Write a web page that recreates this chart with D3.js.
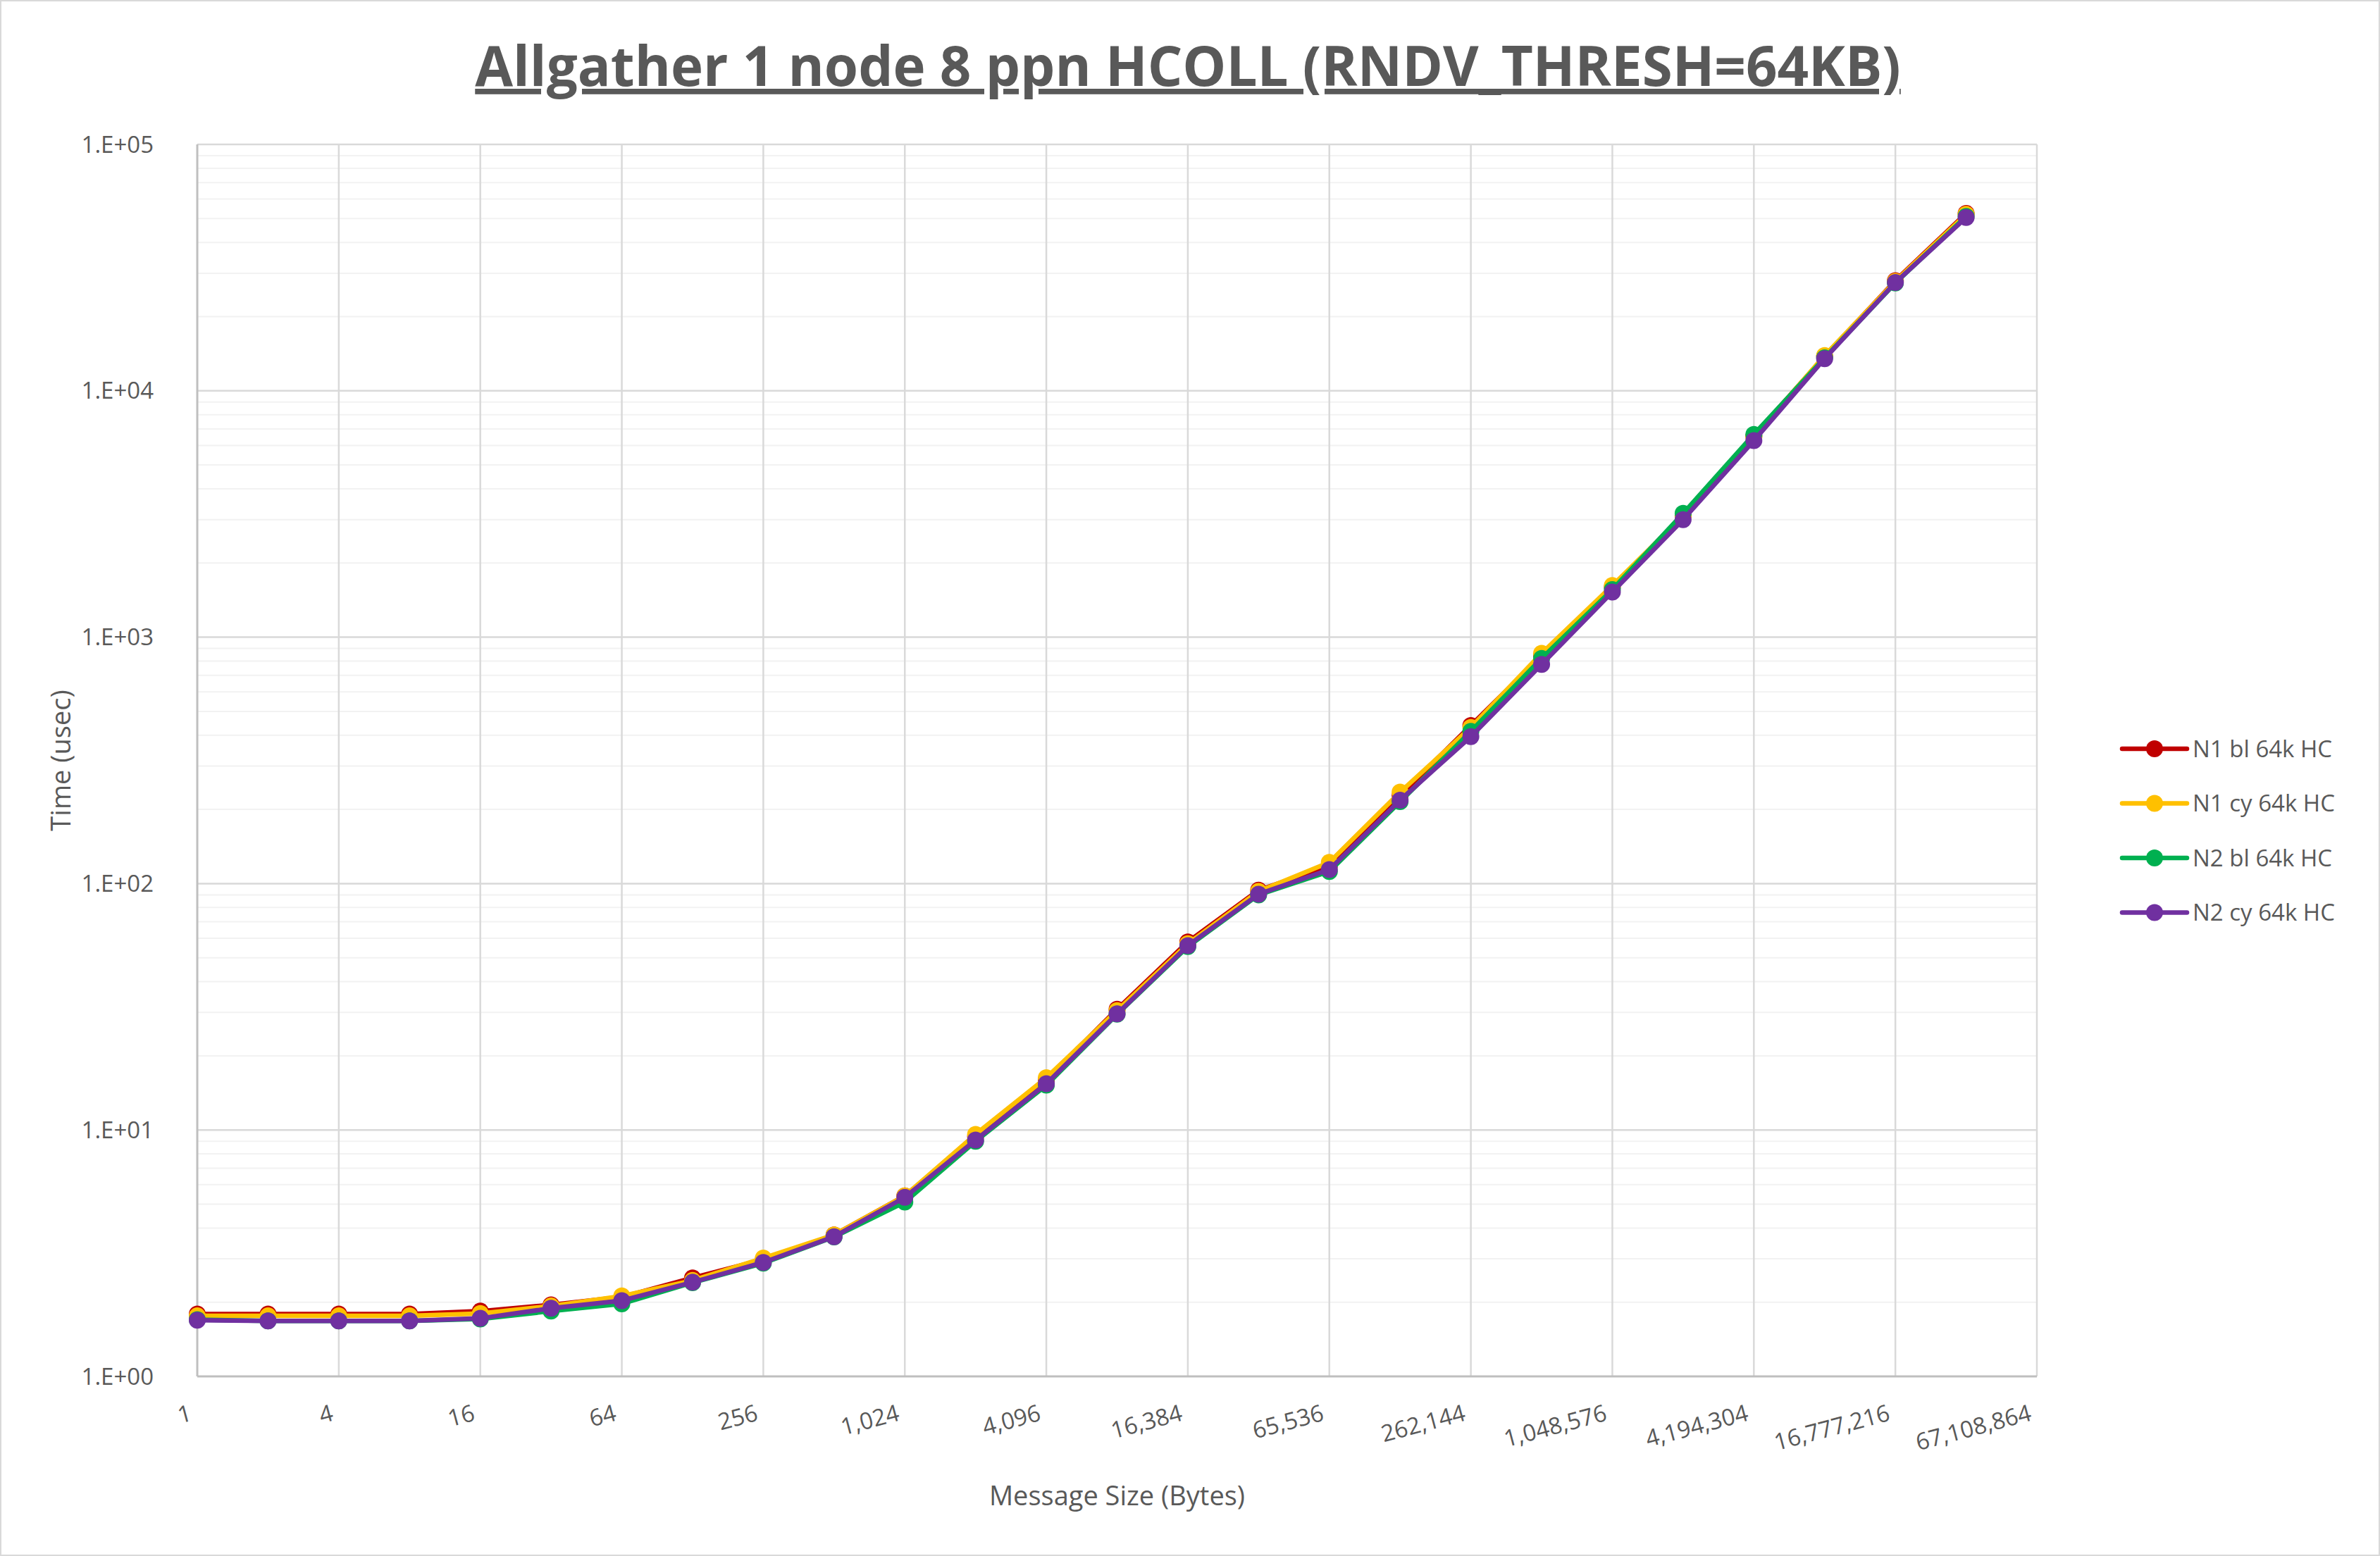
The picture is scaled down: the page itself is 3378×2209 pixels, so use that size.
<!DOCTYPE html>
<html>
<head>
<meta charset="utf-8">
<script src="https://cdn.jsdelivr.net/npm/d3@7"></script>
<style>
  body { margin: 0; background: #fff; }
  svg text { font-family: "Open Sans", "Liberation Sans", sans-serif; fill: #595959; }
</style>
</head>
<body>
<div id="chart"></div>
<script>
// message sizes 2^0 .. 2^26 (last category has no data)
const sizes = d3.range(27).map(i => Math.pow(2, i));

const seriesNames = ['N1 bl 64k HC', 'N1 cy 64k HC', 'N2 bl 64k HC', 'N2 cy 64k HC'];
const seriesColors = ['#c00000', '#ffc000', '#00b050', '#7030a0'];

const n1bl = [1.79, 1.79, 1.79, 1.79, 1.84, 1.95, 2.1, 2.51, 2.98, 3.75, 5.4, 9.4, 16.0, 30.9, 58, 94, 118, 228, 438, 840, 1600, 3120, 6550, 13800, 28000, 52500];
const n1cy = [1.76, 1.76, 1.76, 1.76, 1.8, 1.93, 2.12, 2.45, 3.02, 3.75, 5.4, 9.6, 16.3, 30.5, 57, 93, 122, 235, 430, 860, 1620, 3100, 6500, 13900, 27800, 52000];
const n2bl = [1.7, 1.68, 1.68, 1.68, 1.71, 1.84, 1.97, 2.4, 2.88, 3.68, 5.1, 9.0, 15.2, 29.5, 55.5, 90, 112, 215, 415, 820, 1560, 3180, 6650, 13600, 27400, 51000];
const n2cy = [1.69, 1.68, 1.68, 1.68, 1.72, 1.89, 2.03, 2.41, 2.9, 3.69, 5.33, 9.1, 15.4, 29.6, 56, 90.6, 114, 218, 395, 775, 1525, 3000, 6280, 13500, 27500, 50500];
const seriesValues = [n1bl, n1cy, n2bl, n2cy];

const yTicks = [1, 10, 100, 1000, 10000, 100000];
const yTickLabels = ['1.E+00', '1.E+01', '1.E+02', '1.E+03', '1.E+04', '1.E+05'];

const W = 3378, H = 2209;
const m = { left: 280, right: 2891, top: 205, bottom: 1954 };

const svg = d3.select('#chart').append('svg')
    .attr('width', W).attr('height', H);

svg.append('rect')
    .attr('x', 1).attr('y', 1).attr('width', W - 2).attr('height', H - 2)
    .attr('fill', '#fff').attr('stroke', '#d9d9d9').attr('stroke-width', 2);

const x = d3.scaleLinear().domain([0, sizes.length - 1]).range([m.left, m.right]);
const y = d3.scaleLog().domain([1, 100000]).range([m.bottom, m.top]);

// minor gridlines
const minor = [];
for (let d = 1; d < 100000; d *= 10) for (let k = 2; k <= 9; k++) minor.push(d * k);
svg.append('g').selectAll('line').data(minor).enter().append('line')
    .attr('x1', m.left).attr('x2', m.right)
    .attr('y1', d => y(d)).attr('y2', d => y(d))
    .attr('stroke', '#f2f2f2').attr('stroke-width', 2);

// major horizontal gridlines
svg.append('g').selectAll('line').data(yTicks.slice(1)).enter().append('line')
    .attr('x1', m.left).attr('x2', m.right)
    .attr('y1', d => y(d)).attr('y2', d => y(d))
    .attr('stroke', '#d9d9d9').attr('stroke-width', 2.5);

// vertical gridlines every 2 categories
const labelIdx = d3.range(0, sizes.length, 2);
svg.append('g').selectAll('line').data(labelIdx.slice(1)).enter().append('line')
    .attr('x1', d => x(d)).attr('x2', d => x(d))
    .attr('y1', m.top).attr('y2', m.bottom)
    .attr('stroke', '#d9d9d9').attr('stroke-width', 2.5);

// axes lines
svg.append('line').attr('x1', m.left).attr('x2', m.left).attr('y1', m.top).attr('y2', m.bottom)
    .attr('stroke', '#bfbfbf').attr('stroke-width', 3);
svg.append('line').attr('x1', m.left).attr('x2', m.right).attr('y1', m.bottom).attr('y2', m.bottom)
    .attr('stroke', '#bfbfbf').attr('stroke-width', 3);

// y tick labels
svg.append('g').selectAll('text').data(yTicks).enter().append('text')
    .attr('x', m.left - 62).attr('y', d => y(d)).attr('dy', '0.35em')
    .attr('text-anchor', 'end').attr('font-size', 33)
    .text((d, i) => yTickLabels[i]);

// x tick labels (rotated)
svg.append('g').selectAll('text').data(labelIdx).enter().append('text')
    .attr('transform', d => `translate(${x(d) - 6},${m.bottom + 62}) rotate(-15)`)
    .attr('text-anchor', 'end').attr('font-size', 33)
    .text(d => d3.format(',')(sizes[d]));

// axis titles
svg.append('text').attr('x', (m.left + m.right) / 2).attr('y', 2137)
    .attr('text-anchor', 'middle').attr('font-size', 38).text('Message Size (Bytes)');
svg.append('text').attr('transform', `translate(100,${(m.top + m.bottom) / 2}) rotate(-90)`)
    .attr('text-anchor', 'middle').attr('font-size', 38).text('Time (usec)');

// title
const title = svg.append('text').attr('x', 1686).attr('y', 122)
    .attr('text-anchor', 'middle').attr('font-size', 78).attr('font-weight', 'bold')
    .attr('text-decoration', 'underline')
    .text('Allgather 1 node 8 ppn HCOLL (RNDV_THRESH=64KB)');

// series
const line = d3.line().x((d, i) => x(i)).y(d => y(d));
seriesValues.forEach((vals, s) => {
    const g = svg.append('g');
    g.append('path').datum(vals).attr('d', line)
        .attr('fill', 'none').attr('stroke', seriesColors[s])
        .attr('stroke-width', 6.5).attr('stroke-linejoin', 'round');
    g.selectAll('circle').data(vals).enter().append('circle')
        .attr('cx', (d, i) => x(i)).attr('cy', d => y(d)).attr('r', 12)
        .attr('fill', seriesColors[s]);
});

// legend
const legend = svg.append('g').attr('transform', 'translate(3012,1063)');
seriesNames.forEach((name, i) => {
    const g = legend.append('g').attr('transform', `translate(0,${i * 77.5})`);
    g.append('line').attr('x1', 0).attr('x2', 92).attr('y1', 0).attr('y2', 0)
        .attr('stroke', seriesColors[i]).attr('stroke-width', 6.5).attr('stroke-linecap', 'round');
    g.append('circle').attr('cx', 46).attr('cy', 0).attr('r', 12).attr('fill', seriesColors[i]);
    g.append('text').attr('x', 100).attr('y', 0).attr('dy', '0.35em')
        .attr('font-size', 33).text(name);
});
</script>
</body>
</html>
